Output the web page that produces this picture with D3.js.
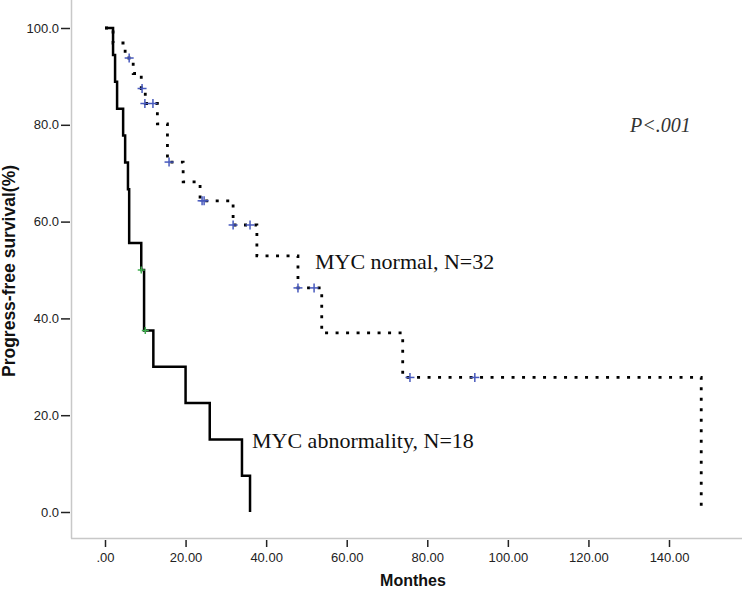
<!DOCTYPE html>
<html>
<head>
<meta charset="utf-8">
<script src="https://cdn.jsdelivr.net/npm/d3@7"></script>
<style>
  body { margin: 0; background: #fff; }
  svg { display: block; }
</style>
</head>
<body>
<div class="display"></div>
<script>
// Kaplan-Meier plot: progress-free survival by MYC status

const WIDTH = 744;
const HEIGHT = 591;

// MYC abnormality (solid), survival steps
const abnTime = [0, 2, 2.5, 3, 4.5, 5, 5.7, 6, 9, 9.7, 12, 20, 26, 34, 36];
const abnSurv = [100, 94.4, 88.9, 83.3, 77.8, 72.2, 66.7, 55.6, 50, 37.5, 30, 22.5, 15, 7.5, 0];
const abnCensorTime = [9, 10];
const abnCensorSurv = [50, 37.5];

// MYC normal (dotted), survival steps
const normTime = [0, 2, 5, 7, 9, 10, 13, 15.5, 19.4, 23.6, 31.8, 37.7, 47.9, 53.8, 73.9, 148];
const normSurv = [100, 96.9, 93.8, 90.6, 87.5, 84.4, 80.2, 72.3, 68.2, 64.3, 59.3, 52.9, 46.3, 37.0, 27.8, 0];
const normCensorTime = [6, 9.2, 9.9, 11.9, 15.9, 24.1, 24.6, 31.8, 36, 47.9, 51.9, 75.7, 91.8];
const normCensorSurv = [93.8, 87.5, 84.4, 84.4, 72.3, 64.3, 64.3, 59.3, 59.3, 46.3, 46.3, 27.8, 27.8];

const xTicks = [0, 20, 40, 60, 80, 100, 120, 140];
const yTicks = [0, 20, 40, 60, 80, 100];

const svg = d3.select('.display')
  .append('svg')
  .attr('width', WIDTH)
  .attr('height', HEIGHT);

const x = d3.scaleLinear().domain([0, 140]).range([105, 669]);
const y = d3.scaleLinear().domain([0, 100]).range([512, 28]);

// axis frame (light gray)
svg.append('line')
  .attr('x1', 71.5).attr('x2', 71.5).attr('y1', 0).attr('y2', 538.5)
  .attr('stroke', '#c8c8c8').attr('stroke-width', 1.5);
svg.append('line')
  .attr('x1', 71).attr('x2', 742).attr('y1', 538.5).attr('y2', 538.5)
  .attr('stroke', '#c8c8c8').attr('stroke-width', 1.5);

// y axis
const yAxis = svg.append('g')
  .attr('transform', 'translate(70,0)')
  .call(d3.axisLeft(y).tickValues(yTicks).tickFormat(d3.format('.1f')).tickSize(9).tickPadding(2));
// x axis
const fmtX = d => d3.format('.2f')(d).replace(/^0\./, '.');
const xAxis = svg.append('g')
  .attr('transform', 'translate(0,540)')
  .call(d3.axisBottom(x).tickValues(xTicks).tickFormat(fmtX).tickSize(7).tickPadding(6));

[yAxis, xAxis].forEach(g => {
  g.select('.domain').remove();
  g.selectAll('.tick line').attr('stroke', '#222').attr('stroke-width', 1.5);
  g.selectAll('.tick text')
    .attr('fill', '#222')
    .style('font-family', 'Liberation Sans, Arial, sans-serif')
    .style('font-size', '13px');
});

// axis titles
svg.append('text')
  .attr('transform', 'translate(15,271) rotate(-90)')
  .attr('text-anchor', 'middle')
  .style('font-family', 'Liberation Sans, Arial, sans-serif')
  .style('font-weight', 'bold')
  .style('font-size', '17.5px')
  .attr('fill', '#111')
  .text('Progress-free survival(%)');

svg.append('text')
  .attr('x', 413).attr('y', 586)
  .attr('text-anchor', 'middle')
  .style('font-family', 'Liberation Sans, Arial, sans-serif')
  .style('font-weight', 'bold')
  .style('font-size', '16px')
  .attr('fill', '#111')
  .text('Monthes');

// survival curves
const line = d3.line()
  .x(d => x(d[0]))
  .y(d => y(d[1]))
  .curve(d3.curveStepAfter);

svg.append('path')
  .datum(normTime.map((t, i) => [t, normSurv[i]]))
  .attr('d', line)
  .attr('fill', 'none')
  .attr('stroke', '#000')
  .attr('stroke-width', 2.8)
  .attr('stroke-dasharray', '3,7.5');

svg.append('path')
  .datum(abnTime.map((t, i) => [t, abnSurv[i]]))
  .attr('d', line)
  .attr('fill', 'none')
  .attr('stroke', '#000')
  .attr('stroke-width', 2.5);

// censor marks
function drawCensors(times, survs, color, half) {
  const g = svg.append('g').attr('stroke', color).attr('stroke-width', 1.5);
  times.forEach((t, i) => {
    const cx = x(t), cy = y(survs[i]);
    g.append('line').attr('x1', cx - half).attr('x2', cx + half).attr('y1', cy).attr('y2', cy);
    g.append('line').attr('x1', cx).attr('x2', cx).attr('y1', cy - half).attr('y2', cy + half);
  });
}
drawCensors(normCensorTime, normCensorSurv, '#4759bd', 4.5);
drawCensors(abnCensorTime, abnCensorSurv, '#3fae4f', 3.5);

// labels
const serif = 'Liberation Serif, Times New Roman, serif';
svg.append('text')
  .attr('x', 315).attr('y', 269)
  .style('font-family', serif).style('font-size', '22px')
  .attr('fill', '#111')
  .text('MYC normal, N=32');

svg.append('text')
  .attr('x', 252).attr('y', 448)
  .style('font-family', serif).style('font-size', '22px')
  .attr('fill', '#111')
  .text('MYC abnormality, N=18');

svg.append('text')
  .attr('x', 630).attr('y', 132)
  .style('font-family', serif).style('font-size', '20px')
  .style('font-style', 'italic')
  .attr('fill', '#333')
  .text('P<.001');
</script>
</body>
</html>
